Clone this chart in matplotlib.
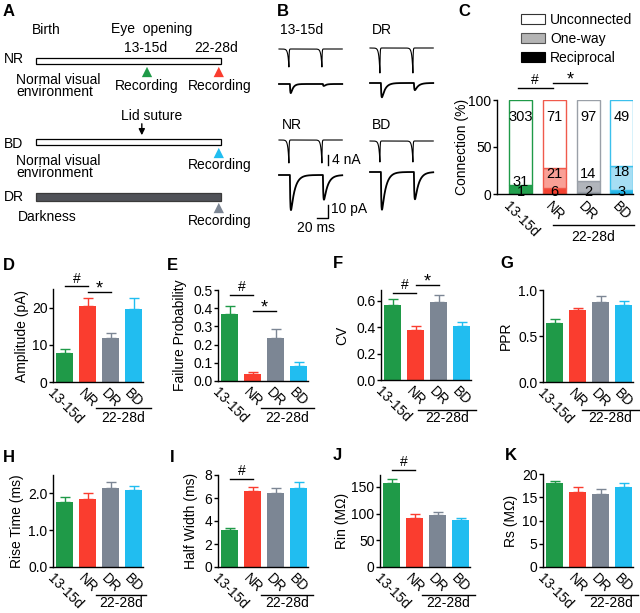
import numpy as np
import matplotlib.pyplot as plt
from matplotlib.patches import Patch

plt.rcParams['font.family'] = ['Liberation Sans', 'DejaVu Sans']
plt.rcParams['font.size'] = 10
plt.rcParams['axes.linewidth'] = 1.0

W, H = 640, 613

groups = ['13-15d', 'NR', 'DR', 'BD']
colors = ['#1f9a48', '#fa3d2f', '#7c8694', '#21bdf0']

# C: number of pairs
unconnected = [303, 71, 97, 49]
one_way = [31, 21, 14, 18]
reciprocal = [1, 6, 2, 3]
c_edge = ['#1f9a48', '#f05a4c', '#9aa0a8', '#3cc0ec']
c_oneway = ['#24a04e', '#f9a096', '#b1b5bb', '#a6def4']
c_recip = ['#0f8038', '#f4402f', '#8a929c', '#22b4e8']

# D-K: mean and SEM
amp = [7.8, 20.3, 11.9, 19.5]
amp_sem = [1.1, 2.4, 1.3, 3.2]
fail = [0.37, 0.04, 0.235, 0.083]
fail_sem = [0.04, 0.01, 0.05, 0.022]
cv = [0.57, 0.38, 0.59, 0.405]
cv_sem = [0.045, 0.03, 0.055, 0.035]
ppr = [0.64, 0.78, 0.87, 0.84]
ppr_sem = [0.04, 0.025, 0.06, 0.04]
rise = [1.76, 1.86, 2.16, 2.08]
rise_sem = [0.14, 0.14, 0.14, 0.11]
half_width = [3.2, 6.6, 6.4, 6.85]
hw_sem = [0.2, 0.35, 0.45, 0.55]
rin = [157, 92, 97, 88]
rin_sem = [8, 7, 6, 3]
rs = [18.1, 16.1, 15.6, 17.1]
rs_sem = [0.4, 1.0, 1.1, 0.9]

# B: example traces (13-15d, DR, NR, BD)
trace_names = ['13-15d', 'DR', 'NR', 'BD']
pre_amp = [7.2, 10.0, 9.2, 8.4]     # nA
epsc1 = [7, 11, 27, 29]             # pA
epsc2 = [1.5, 5.5, 19, 21]          # pA
epsc_decay = [4, 6, 7, 7]           # ms
stim_times = [18, 78]               # ms

# A: timeline (postnatal days, schematic)
timeline_end = 25
record_days = [15, 24.7]
lid_suture_day = 14.3

fig = plt.figure(figsize=(W / 100, H / 100), dpi=100)


def add_ax(left, top, right, bottom):
    return fig.add_axes([left / W, 1 - bottom / H, (right - left) / W, (bottom - top) / H])


ov = add_ax(0, 0, W, H)
ov.set_xlim(0, W)
ov.set_ylim(H, 0)
ov.axis('off')

# panel letters
for lab, x, y in [('A', 3, 11), ('B', 277, 12), ('C', 458, 12), ('D', 3, 265), ('E', 167, 265),
                  ('F', 333, 263), ('G', 500, 263), ('H', 3, 457), ('I', 170, 457),
                  ('J', 333, 455), ('K', 505, 455)]:
    ov.text(x, y, lab, fontsize=12, fontweight='bold', ha='left', va='center')

# ---------- A ----------
axA = add_ax(0, 0, 262, 240)
ppd = 7.4
axA.set_xlim(-36 / ppd, (262 - 36) / ppd)
axA.set_ylim(240, 0)
axA.axis('off')


def dx(px):
    return (px - 36) / ppd


axA.barh([61, 142], timeline_end, left=0, height=6, color='white', edgecolor='k', lw=0.9)
axA.barh(197, timeline_end, left=0, height=8, color='#505258', edgecolor='#3a3a3a', lw=0.9)
axA.scatter(record_days, [72, 72], marker='^', s=55, c=[colors[0], colors[1]], edgecolors='none')
axA.scatter([record_days[1]], [153], marker='^', s=55, c=colors[3], edgecolors='none')
axA.scatter([record_days[1]], [208], marker='^', s=55, c=colors[2], edgecolors='none')
axA.annotate('', xy=(lid_suture_day, 138), xytext=(lid_suture_day, 121),
             arrowprops=dict(arrowstyle='-|>', color='k', lw=1, mutation_scale=9))

axA.text(dx(46), 30, 'Birth', ha='center', va='center')
axA.text(dx(152), 29, 'Eye  opening', ha='center', va='center')
axA.text(dx(146), 48, '13-15d', ha='center', va='center')
axA.text(dx(216), 48, '22-28d', ha='center', va='center')
for name, y in [('NR', 59), ('BD', 144), ('DR', 197)]:
    axA.text(dx(4), y, name, ha='left', va='center')
axA.text(record_days[0], 86, 'Recording', ha='center', va='center')
for y in [86, 165, 221]:
    axA.text(dx(220), y, 'Recording', ha='center', va='center')
for y in [86, 167]:
    axA.text(dx(16), y, 'Normal visual\nenvironment', ha='left', va='center', linespacing=0.85)
axA.text(dx(18), 217, 'Darkness', ha='left', va='center')
axA.text(dx(152), 116, 'Lid suture', ha='center', va='center')

# ---------- B ----------
t = np.arange(0, 115, 0.05)
px_ms, px_nA, px_pA = 0.55, 2.5, 1.3
origins = [(279, 49, 84), (370, 48, 83), (279, 140, 175), (370, 141, 172)]
label_pos = [(280, 30), (372, 30), (282, 125), (372, 125)]

for i in range(4):
    x0, pre_y, post_y = origins[i]
    pre = np.zeros_like(t)
    post = np.zeros_like(t)
    tr, td = 0.8, epsc_decay[i]
    tpk = tr * td / (td - tr) * np.log(td / tr)
    kmax = np.exp(-tpk / td) - np.exp(-tpk / tr)
    for ts, a in zip(stim_times, [epsc1[i], epsc2[i]]):
        d = t - ts
        pre -= pre_amp[i] * np.where(d < 0, np.exp(np.minimum(d, 0) / 1.8), np.exp(-np.maximum(d, 0) / 0.4))
        d2 = d - 1.8
        k = np.where(d2 > 0, np.exp(-np.maximum(d2, 0) / td) - np.exp(-np.maximum(d2, 0) / tr), 0)
        post -= a * k / kmax
    xs = x0 + t * px_ms
    ov.plot(xs, pre_y - pre * px_nA, color='k', lw=0.8)
    ov.plot(xs, post_y - post * px_pA, color='k', lw=1.3)
    ov.text(label_pos[i][0], label_pos[i][1], trace_names[i], ha='left', va='center')

# scale bars
ov.plot([328, 328], [155, 155 + 4 * px_nA], color='k', lw=1)
ov.text(332, 160, '4 nA', ha='left', va='center')
ov.plot([328 - 20 * px_ms, 328, 328], [218, 218, 218 - 10 * px_pA], color='k', lw=1)
ov.text(331, 209, '10 pA', ha='left', va='center')
ov.text(316, 228, '20 ms', ha='center', va='center')


# ---------- helpers ----------
def style(ax):
    for s in ['top', 'right']:
        ax.spines[s].set_visible(False)
    ax.tick_params(axis='y', length=3, width=1, pad=1, labelsize=10)
    ax.tick_params(axis='x', length=0, pad=3, labelsize=10)
    ax.set_xticks(range(4))
    ax.set_xticklabels(groups, rotation=-45, ha='center', va='top')


def group_label(ax, x0, x1, line_dy, text_dy):
    h = ax.get_position().height * H
    tr = ax.get_xaxis_transform()
    ax.plot([x0, x1], [-line_dy / h] * 2, color='k', lw=1, transform=tr, clip_on=False)
    ax.text((x0 + x1) / 2, -text_dy / h, '22-28d', transform=tr, ha='center', va='center')


def ylab(ax, text, px_center):
    pos = ax.get_position()
    ax.set_ylabel(text)
    ax.yaxis.set_label_coords((px_center + 6 - pos.x0 * W) / (pos.width * W), 0.5)


def sig(ax, x0, x1, y, sym):
    ax.plot([x0, x1], [y, y], color='k', lw=1, clip_on=False)
    if sym == '*':
        ax.annotate(sym, xy=((x0 + x1) / 2, y), xytext=(0, -4), textcoords='offset points',
                    ha='center', va='bottom', fontsize=13, annotation_clip=False)
    else:
        ax.annotate(sym, xy=((x0 + x1) / 2, y), xytext=(0, 0.5), textcoords='offset points',
                    ha='center', va='bottom', fontsize=10, annotation_clip=False)


def bar_panel(left, top, bottom, vals, sems, ymax, ticks, ticklabels, ylabel, ylabel_x):
    ax = add_ax(left, top, left + 90, bottom)
    x = np.arange(4)
    ax.bar(x, vals, width=0.74, color=colors)
    for i in range(4):
        ax.errorbar(x[i], vals[i], yerr=[[0], [sems[i]]], color=colors[i], capsize=3.5,
                    elinewidth=1, capthick=1)
    ax.set_xlim(-0.52, 3.4)
    ax.set_ylim(0, ymax)
    ax.set_yticks(ticks)
    ax.set_yticklabels(ticklabels)
    style(ax)
    ylab(ax, ylabel, ylabel_x)
    return ax


# ---------- C ----------
axC = add_ax(497, 100, 633, 194)
xc = np.arange(4)
tot = np.array(unconnected) + np.array(one_way) + np.array(reciprocal)
p_rec = 100 * np.array(reciprocal) / tot
p_one = 100 * np.array(one_way) / tot
p_un = 100 - p_rec - p_one
axC.bar(xc, p_rec, width=0.68, color=c_recip, edgecolor=c_edge, lw=1)
axC.bar(xc, p_one, width=0.68, bottom=p_rec, color=c_oneway, edgecolor=c_edge, lw=1)
axC.bar(xc, p_un, width=0.68, bottom=p_rec + p_one, color='white', edgecolor=c_edge, lw=1)
one_way_label_y = [12.5, 21, 21, 23]
for i in range(4):
    axC.text(xc[i], 82, str(unconnected[i]), ha='center', va='center', fontsize=10.5)
    axC.text(xc[i], one_way_label_y[i], str(one_way[i]), ha='center', va='center', fontsize=10.5)
    axC.text(xc[i], 2, str(reciprocal[i]), ha='center', va='center', fontsize=10.5)
axC.set_xlim(-0.71, 3.33)
axC.set_ylim(0, 100)
axC.set_yticks([0, 50, 100])
style(axC)
axC.tick_params(axis='x', pad=4)
ylab(axC, 'Connection (%)', 463)
group_label(axC, 0.95, 3.35, 31, 43)
sig(axC, -0.1, 0.95, 113, '#')
sig(axC, 0.95, 1.96, 118, '*')

handles = [Patch(fc='white', ec='#333333', lw=0.8, label='Unconnected'),
           Patch(fc='#b4b4b4', ec='#555555', lw=0.8, label='One-way'),
           Patch(fc='black', ec='black', lw=0.8, label='Reciprocal')]
fig.legend(handles=handles, loc='upper left', bbox_to_anchor=(521 / W, 1 - 13 / H), frameon=False,
           handlelength=1.7, handleheight=0.75, handletextpad=0.4, labelspacing=0.35,
           borderpad=0, borderaxespad=0, fontsize=10)

# ---------- D-G ----------
axD = bar_panel(53, 289, 382, amp, amp_sem, 25, [0, 10, 20], ['0', '10', '20'], 'Amplitude (pA)', 23)
group_label(axD, 1.35, 3.75, 26, 36)
sig(axD, 0, 1, 25.7, '#')
sig(axD, 1, 2, 24.1, '*')

axE = bar_panel(218, 290, 381, fail, fail_sem, 0.5, [0, 0.1, 0.2, 0.3, 0.4, 0.5],
                ['0.0', '0.1', '0.2', '0.3', '0.4', '0.5'], 'Failure Probability', 181)
group_label(axE, 1.35, 3.65, 27, 37)
sig(axE, 0, 1, 0.473, '#')
sig(axE, 1, 2, 0.385, '*')

axF = bar_panel(381, 290, 380, cv, cv_sem, 0.68, [0, 0.2, 0.4, 0.6],
                ['0.0', '0.2', '0.4', '0.6'], 'CV', 343)
group_label(axF, 1.1, 3.6, 30, 38)
sig(axF, 0, 1, 0.66, '#')
sig(axF, 1, 2, 0.72, '*')

axG = bar_panel(543, 290, 382, ppr, ppr_sem, 1.0, [0, 0.5, 1.0], ['0.0', '0.5', '1.0'], 'PPR', 507)
group_label(axG, 1.2, 3.65, 28, 36)

# ---------- H-K ----------
axH = bar_panel(53, 475, 567, rise, rise_sem, 2.5, [0, 1, 2], ['0.0', '1.0', '2.0'], 'Rise Time (ms)', 18)
group_label(axH, 1.35, 3.55, 28, 36)

axI = bar_panel(218, 475, 567, half_width, hw_sem, 8, [0, 2, 4, 6, 8],
                ['0', '2', '4', '6', '8'], 'Half Width (ms)', 192)
group_label(axI, 1.35, 3.6, 28, 36)
sig(axI, 0, 1, 7.65, '#')

axJ = bar_panel(380, 475, 567, rin, rin_sem, 172, [0, 50, 100, 150],
                ['0', '50', '100', '150'], 'Rin (M\u03a9)', 343)
group_label(axJ, 1.3, 3.6, 28, 36)
sig(axJ, 0, 1, 181, '#')

axK = bar_panel(543, 474, 567, rs, rs_sem, 20, [0, 5, 10, 15, 20],
                ['0', '5', '10', '15', '20'], 'Rs (M\u03a9)', 512)
group_label(axK, 1.3, 3.6, 28, 36)

fig.savefig('out.png', dpi=100)
